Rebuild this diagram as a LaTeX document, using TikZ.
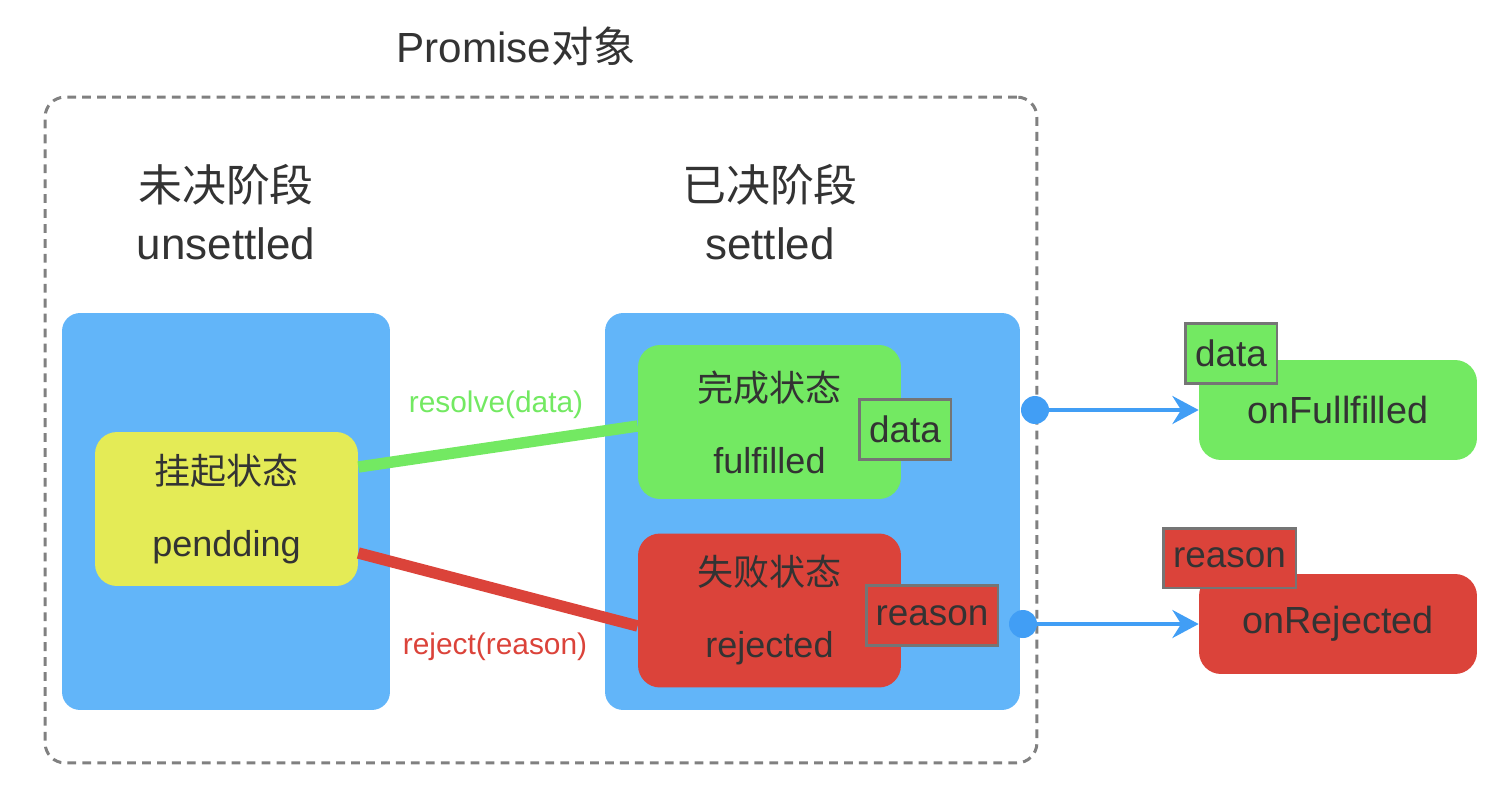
\documentclass[tikz,border=0pt]{standalone}
\usepackage{fontspec}
\setmainfont{Liberation Sans}
\newfontfamily\cjk{Noto Sans CJK SC}
\usetikzlibrary{arrows.meta,calc}

\definecolor{stageblue}{RGB}{98,181,249}
\definecolor{pendyellow}{RGB}{228,235,86}
\definecolor{okgreen}{RGB}{115,233,98}
\definecolor{failred}{RGB}{219,67,58}
\definecolor{tagborder}{RGB}{117,117,117}
\definecolor{framegray}{RGB}{128,128,128}
\definecolor{textgray}{RGB}{51,51,51}
\definecolor{arrowblue}{RGB}{65,158,245}

\begin{document}
\begin{tikzpicture}[
  x=0.02cm, y=-0.02cm,
  every node/.style={text=textgray},
  stage box/.style={
    fill=stageblue,
    rounded corners=0.36cm,
    minimum height=7.94cm,
  },
  state node/.style={
    rounded corners=0.44cm,
    align=center,
    minimum width=5.26cm,
    minimum height=3.08cm,
    font=\fontsize{20.5}{41}\selectfont,
  },
  handler node/.style={
    rounded corners=0.44cm,
    minimum width=5.56cm,
    minimum height=2.0cm,
    font=\fontsize{21.5}{25}\selectfont,
  },
  tag node/.style={
    draw=tagborder,
    line width=1.7pt,
    inner sep=0pt,
    minimum height=1.2cm,
    font=\fontsize{21}{25}\selectfont,
  },
  head node/.style={align=center,font=\fontsize{25}{33}\selectfont},
  edge label/.style={font=\fontsize{17}{20}\selectfont},
  call dot/.style={circle,fill=arrowblue,minimum size=0.56cm,inner sep=0pt},
  call arrow/.style={draw=arrowblue,line width=1.8pt,
    -{Stealth[length=15pt,width=16pt,inset=5pt]}},
  ]
  \useasboundingbox (0,0) rectangle (1502,788);

  % outer frame
  \node[font=\fontsize{24}{28}\selectfont] (promise-title) at (516,46) {Promise{\cjk 对象}};
  \node[draw=framegray,dashed,dash pattern=on 5pt off 3.5pt,line width=1.7pt,
    rounded corners=0.4cm,minimum width=19.84cm,minimum height=13.32cm]
    (promise-frame) at (541,430) {};

  % stages
  \node[head node] (unsettled-head) at (226,212) {{\cjk 未决阶段}\\unsettled};
  \node[head node] (settled-head)   at (770,212) {{\cjk 已决阶段}\\settled};
  \node[stage box,minimum width=6.56cm] (unsettled-box) at (226,511.5) {};
  \node[stage box,minimum width=8.30cm] (settled-box)   at (812.5,511.5) {};

  % states
  \node[state node,fill=pendyellow] (pending)   at (226.5,509) {{\cjk 挂起状态}\\pendding};
  \node[state node,fill=okgreen]    (fulfilled) at (769.5,422) {{\cjk 完成状态}\\fulfilled};
  \node[state node,fill=failred]    (rejected)  at (769.5,610.5) {{\cjk 失败状态}\\rejected};
  \node[tag node,fill=okgreen,minimum width=1.84cm]  (fulfilled-data)  at (905,429.5) {data};
  \node[tag node,fill=failred,minimum width=2.64cm]  (rejected-reason) at (932,615.5) {reason};

  % transitions
  \draw[okgreen,line width=6.5pt] ($(pending.east)+(0,-42)$) -- ($(fulfilled.west)+(0,4)$);
  \draw[failred,line width=6.5pt] ($(pending.east)+(0,44)$) -- ($(rejected.west)+(0,15.5)$);
  \node[edge label,text=okgreen] (resolve-label) at (496,405) {resolve(data)};
  \node[edge label,text=failred] (reject-label)  at (495,647) {reject(reason)};

  % handlers
  \node[handler node,fill=okgreen] (on-fulfilled) at (1338,410) {onFullfilled};
  \node[handler node,fill=failred] (on-rejected)  at (1338,624) {onRejected};
  \node[tag node,fill=okgreen,minimum width=1.84cm] (handler-data)   at (1231,353.5) {data};
  \node[tag node,fill=failred,minimum width=2.66cm] (handler-reason) at (1229.5,558) {reason};
  \node[call dot] (fulfilled-dot) at (1035,410) {};
  \node[call dot] (rejected-dot)  at (1023,624) {};
  \path[call arrow] (fulfilled-dot.center) -- (on-fulfilled.west);
  \path[call arrow] (rejected-dot.center) -- (on-rejected.west);
\end{tikzpicture}
\end{document}
